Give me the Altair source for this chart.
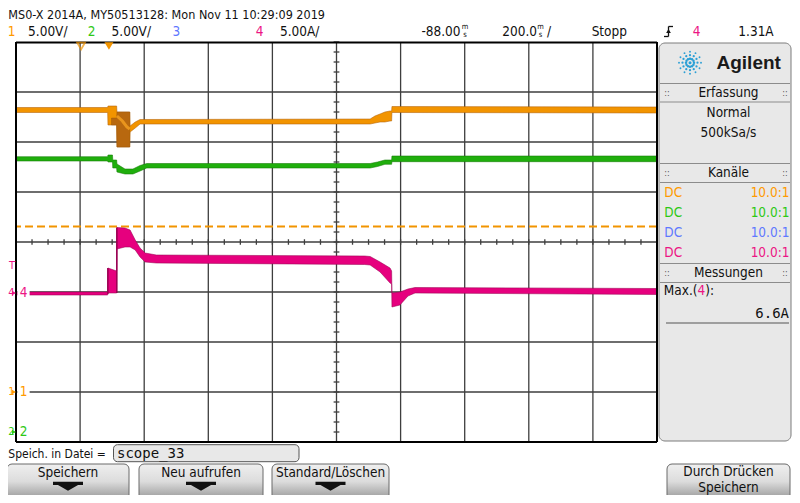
import altair as alt
import numpy as np
import pandas as pd

# ---------------- scope settings ----------------
T_CENTER = -88.0          # ms, horizontal delay
T_DIV = 200.0             # ms / div
CH1_PER_DIV, CH1_GND = 5.0, -3.0    # V/div, ground marker position in div
CH2_PER_DIV, CH2_GND = 5.0, -3.8    # V/div
CH4_PER_DIV, CH4_GND = 5.0, -1.02   # A/div

# ---------------- waveform envelopes (time in ms, values in V / A) ----------------
ch1_t  = [-1088, -802, -801, -774, -773, -733, -732, -716, -701, 17, 32, 48, 63, 79, 84, 85, 912]
ch1_hi = [28.45, 28.45, 28.6, 28.6, 28.0, 28.0, 26.6, 27.0, 27.25, 27.3, 27.6, 27.8, 28.0, 28.1, 28.1, 28.55, 28.5]
ch1_lo = [27.95, 27.95, 26.7, 26.7, 24.5, 24.5, 26.0, 26.4, 26.8, 26.8, 26.9, 27.0, 27.0, 27.1, 27.1, 27.95, 27.9]
ch1_dark_t  = [-790, -774, -773, -733]
ch1_dark_hi = [27.4, 27.4, 28.0, 28.0]
ch1_dark_lo = [26.7, 26.7, 24.5, 24.5]
ch1_streak_t = [-773, -756, -742, -733]
ch1_streak_v = [27.6, 27.1, 26.5, 26.3]

ch2_t  = [-1088, -802, -801, -787, -786, -774, -773, -748, -723, -701, -680, 17, 40, 63, 84, 85, 912]
ch2_hi = [27.53, 27.53, 27.7, 27.7, 27.2, 27.2, 26.8, 26.3, 26.3, 26.65, 26.85, 26.85, 27.0, 27.2, 27.2, 27.6, 27.6]
ch2_lo = [27.1, 27.1, 27.0, 27.0, 26.4, 26.4, 26.0, 25.8, 25.8, 26.1, 26.4, 26.4, 26.55, 26.77, 26.77, 27.03, 27.03]

ch4_t  = [-1088, -802, -801, -774, -773, -748, -732, -716, -701, -685, -650, 0, 17, 48, 79, 84, 85, 110, 135, 157, 912]
ch4_hi = [0.1, 0.1, 2.5, 2.2, 6.55, 6.5, 6.3, 5.3, 4.5, 4.0, 3.8, 3.7, 3.65, 3.1, 2.5, 2.2, 0.0, 0.1, 0.4, 0.55, 0.45]
ch4_lo = [-0.2, -0.2, 0.0, 0.0, 4.4, 4.6, 4.6, 4.3, 3.6, 3.1, 3.0, 2.85, 2.8, 2.1, 1.0, 0.9, -1.4, -1.2, -0.3, 0.0, -0.15]
ch4_edges_t  = [-801.5, -773.5]      # fast edges drawn as thin vertical strokes
ch4_edges_lo = [-0.1, 0.0]
ch4_edges_hi = [2.5, 6.55]

ref_level_a = 6.65            # dashed orange level (on the ch4 scale)
marker_hollow_t = [-885]      # top markers
marker_filled_t = [-798]

# ---------------- texts ----------------
header_line1 = "MS0-X 2014A, MY50513128: Mon Nov 11 10:29:09 2019"
channel_nums = ["1", "2", "3", "4"]
channel_scales = ["5.00V/", "5.00V/", "", "5.00A/"]
delay_text = "-88.00"
timebase_text = "200.0"
run_state = "Stopp"
trig_src = "4"
trig_level = "1.31A"
panel_titles = ["Erfassung", "Kanäle", "Messungen"]
acq_lines = ["Normal", "500kSa/s"]
coupling = ["DC", "DC", "DC", "DC"]
probe = ["10.0:1", "10.0:1", "10.0:1", "10.0:1"]
meas_value = "6.6A"
file_label = "Speich. in Datei ="
file_name = "scope_33"
buttons = ["Speichern", "Neu aufrufen", "Standard/Löschen"]
button_right = ["Durch Drücken", "Speichern"]

# ---------------- styling ----------------
NARROW = "DejaVu Sans Condensed, DejaVu Sans, sans-serif"
SANS = "Liberation Sans, Arial, sans-serif"
MONO = "DejaVu Sans Mono, Liberation Mono, monospace"
FS = 13.5
BLACK = "#111111"
OR_TR, OR_DK, OR_TX = "#f29400", "#b4620a", "#ff9a00"
GR_TR, GR_DK, GR_TX = "#1fae0c", "#137a05", "#2ec814"
MA_TR, MA_DK, MA_TX = "#e6007e", "#9a0052", "#ec1584"
BL_TX = "#5f78ff"
GRID = "#3e3e3e"
CH_COLORS = [OR_TX, GR_TX, BL_TX, MA_TX]

W, H = 641, 400
OX, OY = 16, 42            # page position of the plot area

xs = alt.Scale(domain=[T_CENTER - 5 * T_DIV, T_CENTER + 5 * T_DIV], nice=False, zero=False)
ys = alt.Scale(domain=[-4, 4], nice=False, zero=False)


def pix(df):
    df = df.copy()
    for c in ("x", "x2"):
        if c in df:
            df[c] = df[c] - OX
    for c in ("y", "y2"):
        if c in df:
            df[c] = df[c] - OY
    return df


def PX(f):
    return alt.X(f"{f}:Q", scale=None, axis=None)


def PY(f):
    return alt.Y(f"{f}:Q", scale=None, axis=None)


def text_layer(rows, size=FS, align="left", weight="normal", font=NARROW):
    df = pix(pd.DataFrame(rows, columns=["x", "y", "label", "color"]))
    return alt.Chart(df).mark_text(align=align, baseline="middle", fontSize=size,
                                   fontWeight=weight, font=font).encode(
        x=PX("x"), y=PY("y"), text="label:N", color=alt.Color("color:N", scale=None))


def rect_layer(rows, **mk):
    df = pix(pd.DataFrame(rows, columns=["x", "x2", "y", "y2"]))
    return alt.Chart(df).mark_rect(**mk).encode(x=PX("x"), x2="x2:Q", y=PY("y"), y2="y2:Q")


def rule_layer(rows, **mk):
    df = pix(pd.DataFrame(rows, columns=["x", "x2", "y", "y2"]))
    return alt.Chart(df).mark_rule(**mk).encode(x=PX("x"), x2="x2:Q", y=PY("y"), y2="y2:Q")


def band(t, lo, hi, per, gnd, fill, stroke, sw=0.8):
    df = pd.DataFrame({"t": t, "lo": np.asarray(lo) / per + gnd, "hi": np.asarray(hi) / per + gnd})
    return alt.Chart(df).mark_area(fill=fill, stroke=stroke, strokeWidth=sw, strokeOpacity=0.7).encode(
        x=alt.X("t:Q", scale=xs, axis=None), y=alt.Y("lo:Q", scale=ys, axis=None), y2="hi:Q")


layers = []

# ---------------- graticule ----------------
vgrid = pd.DataFrame({"t": [T_CENTER - 5 * T_DIV + i * T_DIV for i in range(1, 10)]})
layers.append(alt.Chart(vgrid).mark_rule(color=GRID, strokeWidth=1.3).encode(
    x=alt.X("t:Q", scale=xs, axis=None)))
hgrid = pd.DataFrame({"d": list(range(-3, 4))})
layers.append(alt.Chart(hgrid).mark_rule(color=GRID, strokeWidth=1.3).encode(
    y=alt.Y("d:Q", scale=ys, axis=None)))
xt = pd.DataFrame({"t": [T_CENTER - 5 * T_DIV + k * T_DIV / 4 for k in range(41)]})
xt["y1"], xt["y2"] = -0.055, 0.055
layers.append(alt.Chart(xt).mark_rule(color=GRID, strokeWidth=1.3).encode(
    x=alt.X("t:Q", scale=xs, axis=None), y=alt.Y("y1:Q", scale=ys, axis=None), y2="y2:Q"))
yt = pd.DataFrame({"d": [-4 + k * 0.2 for k in range(41)]})
yt["t1"], yt["t2"] = T_CENTER - 9, T_CENTER + 9
layers.append(alt.Chart(yt).mark_rule(color=GRID, strokeWidth=1.3).encode(
    y=alt.Y("d:Q", scale=ys, axis=None), x=alt.X("t1:Q", scale=xs, axis=None), x2="t2:Q"))

# dashed level line
lvl = pd.DataFrame({"lvl": [ref_level_a / CH4_PER_DIV + CH4_GND]})
layers.append(alt.Chart(lvl).mark_rule(color=OR_TR, strokeDash=[8, 4], strokeWidth=2).encode(
    y=alt.Y("lvl:Q", scale=ys, axis=None)))

# ---------------- traces ----------------
layers.append(band(ch1_t, ch1_lo, ch1_hi, CH1_PER_DIV, CH1_GND, OR_TR, OR_DK))
layers.append(band(ch1_dark_t, ch1_dark_lo, ch1_dark_hi, CH1_PER_DIV, CH1_GND, "#b8680f", "#8a4a08", 0.5))
st = pd.DataFrame({"t": ch1_streak_t, "v": np.asarray(ch1_streak_v) / CH1_PER_DIV + CH1_GND})
layers.append(alt.Chart(st).mark_line(color="#f5a020", strokeWidth=3, opacity=0.8).encode(
    x=alt.X("t:Q", scale=xs, axis=None), y=alt.Y("v:Q", scale=ys, axis=None)))
layers.append(band(ch2_t, ch2_lo, ch2_hi, CH2_PER_DIV, CH2_GND, GR_TR, GR_DK))
layers.append(band(ch4_t, ch4_lo, ch4_hi, CH4_PER_DIV, CH4_GND, MA_TR, MA_DK))
edges = pd.DataFrame({"t": ch4_edges_t,
                      "lo": np.asarray(ch4_edges_lo) / CH4_PER_DIV + CH4_GND,
                      "hi": np.asarray(ch4_edges_hi) / CH4_PER_DIV + CH4_GND})
layers.append(alt.Chart(edges).mark_rule(color=MA_DK, strokeWidth=1.5).encode(
    x=alt.X("t:Q", scale=xs, axis=None), y=alt.Y("lo:Q", scale=ys, axis=None), y2="hi:Q"))

# plot frame
layers.append(rule_layer([(16, 657, 42.5, 42.5), (16, 657, 442, 442), (16, 16, 42, 442), (657, 657, 42, 442)],
                         color="black", strokeWidth=2))

# top markers
layers.append(alt.Chart(pd.DataFrame({"t": marker_hollow_t})).mark_point(
    shape="triangle-down", filled=False, color=OR_TR, strokeWidth=1.8, size=60).encode(
    x=alt.X("t:Q", scale=xs, axis=None), y=alt.value(4)))
layers.append(alt.Chart(pd.DataFrame({"t": marker_filled_t})).mark_point(
    shape="triangle-down", filled=True, color=OR_TR, opacity=1, size=80).encode(
    x=alt.X("t:Q", scale=xs, axis=None), y=alt.value(4)))

# ground markers for channels 1, 2, 4
gnd = pd.DataFrame({"label": ["1", "2", "4"], "d": [CH1_GND, CH2_GND, CH4_GND],
                    "color": [OR_TX, GR_TX, MA_TX]})
ych = alt.Y("d:Q", scale=ys, axis=None)
ccol = alt.Color("color:N", scale=None)
layers.append(alt.Chart(gnd).mark_square(color="white", opacity=1, size=150).encode(
    x=alt.value(23.5 - OX), y=ych))
layers.append(alt.Chart(gnd).mark_text(align="center", baseline="middle", fontSize=FS, font=NARROW).encode(
    x=alt.value(23.5 - OX), y=ych, text="label:N", color=ccol))
layers.append(alt.Chart(gnd).mark_text(align="left", baseline="middle", fontSize=11, font=NARROW).encode(
    x=alt.value(8.3 - OX), y=ych, text="label:N", color=ccol))
layers.append(alt.Chart(gnd).mark_point(shape="triangle-right", filled=True, opacity=1, size=22).encode(
    x=alt.value(14 - OX), y=ych, color=ccol))
layers.append(text_layer([(12, 266, "T", MA_TX)], size=11, align="center"))

# ---------------- header ----------------
layers.append(text_layer([(8.3, 14.5, header_line1, BLACK)], size=12.5))
hdr = [(11.5, 32, channel_nums[0], CH_COLORS[0]), (47.8, 32, channel_scales[0], BLACK),
       (91.5, 32, channel_nums[1], CH_COLORS[1]), (131.3, 32, channel_scales[1], BLACK),
       (176.3, 32, channel_nums[2], CH_COLORS[2]),
       (259.5, 32, channel_nums[3], CH_COLORS[3]), (299.7, 32, channel_scales[3], BLACK),
       (441, 32, delay_text, BLACK), (519.7, 32, timebase_text, BLACK),
       (549, 32, "/", BLACK), (609.3, 32, run_state, BLACK),
       (696.5, 32, trig_src, MA_TX), (756, 32, trig_level, BLACK)]
layers.append(text_layer([r for r in hdr if r[2]], align="center"))
layers.append(text_layer([(465, 27, "m", BLACK), (540.5, 27, "m", BLACK)], size=7.5, align="center"))
layers.append(text_layer([(465, 35, "s", BLACK), (540.5, 35, "s", BLACK)], size=7.5, align="center"))
# trigger slope icon
layers.append(rule_layer([(664, 668.5, 36.5, 36.5), (668.5, 668.5, 36.5, 26.5), (668.5, 673, 26.5, 26.5)],
                         color=BLACK, strokeWidth=1.3))
ic = pix(pd.DataFrame({"x": [668.5], "y": [31]}))
layers.append(alt.Chart(ic).mark_point(shape="triangle-up", filled=True, color=BLACK, opacity=1, size=22).encode(
    x=PX("x"), y=PY("y")))

# ---------------- right panel ----------------
layers.append(rect_layer([(659, 791, 43, 441)], fill="#e8e8e8", stroke="#7c7c7c", strokeWidth=1, cornerRadius=6))
layers.append(rule_layer([(660, 790, y, y) for y in (83.5, 102, 163.5, 182.5, 263.5, 282.5)],
                         color="#8c8c8c", strokeWidth=1))
# logo
ang = np.deg2rad(np.arange(0, 360, 30))
lx, ly, ls = [690.0], [62.7], [9.0]
for a in ang:
    for r, s in ((4.0, 6.0), (7.5, 5.0), (11.0, 3.5)):
        lx.append(690 + r * np.cos(a)); ly.append(62.7 + r * np.sin(a)); ls.append(s)
logo = pix(pd.DataFrame({"x": lx, "y": ly, "s": ls}))
layers.append(alt.Chart(logo).mark_circle(color="#2a9fd6", opacity=1).encode(
    x=PX("x"), y=PY("y"), size=alt.Size("s:Q", scale=None)))
layers.append(text_layer([(716.5, 63, "Agilent", "#1a1a1a")], size=19, weight="bold", font=SANS))
layers.append(text_layer([(728.5, 93, panel_titles[0], BLACK), (728.5, 113, acq_lines[0], BLACK),
                          (728.5, 133, acq_lines[1], BLACK), (728.5, 173, panel_titles[1], BLACK),
                          (728.5, 273, panel_titles[2], BLACK)], align="center"))
grip_rows = []
for y in (93, 173, 273):
    grip_rows += [(667, y, "::", "#555555"), (785, y, "::", "#555555")]
layers.append(text_layer(grip_rows, size=9, align="center"))
dcy = [193, 213, 233, 252.5]
layers.append(text_layer([(664.3, y, c, col) for y, c, col in zip(dcy, coupling, CH_COLORS)]))
layers.append(text_layer([(789.5, y, p, col) for y, p, col in zip(dcy, probe, CH_COLORS)], align="right"))
layers.append(text_layer([(697.5, 291, "Max.(", BLACK)], align="right"))
layers.append(text_layer([(701.3, 291, "4", MA_TX)], align="center"))
layers.append(text_layer([(705.2, 291, "):", BLACK)], align="left"))
layers.append(text_layer([(789, 314, meas_value, BLACK)], size=14, align="right", font=MONO))
layers.append(rule_layer([(666, 789, 323, 323)], color="#555555", strokeWidth=1))

# ---------------- bottom bar ----------------
layers.append(text_layer([(8.3, 453.5, file_label, BLACK)], size=12))
layers.append(rect_layer([(113.5, 299, 444.7, 461.7)], fill="#e8e8e8", stroke="#555555", strokeWidth=1,
                         cornerRadius=4))
layers.append(text_layer([(117, 453.5, file_name, BLACK)], size=14, font=MONO))
grad = {"gradient": "linear", "x1": 0, "y1": 0, "x2": 0, "y2": 1,
        "stops": [{"offset": 0, "color": "#efefef"}, {"offset": 0.45, "color": "#dcdcdc"},
                  {"offset": 1, "color": "#8a8a8a"}]}
btn_x = [(7, 129), (139, 263), (272, 389), (667, 790)]
layers.append(rect_layer([(a, b, 464, 503) for a, b in btn_x], fill=grad, stroke="#6a6a6a", strokeWidth=1,
                         cornerRadius=5))
bc = [(a + b) / 2 for a, b in btn_x]
layers.append(text_layer([(bc[i], 473, buttons[i], BLACK) for i in range(3)] +
                         [(bc[3], 472, button_right[0], BLACK), (bc[3], 487.5, button_right[1], BLACK)],
                         align="center"))
arrow = pix(pd.DataFrame({"x": bc[:3], "y": [486] * 3}))
layers.append(alt.Chart(arrow).mark_point(
    shape="M -1 -0.28 L 1 -0.28 L 1 -0.06 L 0.67 -0.06 L 0 0.32 L -0.67 -0.06 L -1 -0.06 Z",
    filled=True, color="#111111", opacity=1, size=900).encode(x=PX("x"), y=PY("y")))

chart = alt.layer(*layers).properties(
    width=W, height=H,
    autosize=alt.AutoSizeParams(type="none"),
    padding={"left": OX - 8, "top": OY - 8, "right": 784 - (OX - 8) - W, "bottom": 487 - (OY - 8) - H},
).configure(background="white").configure_view(stroke=None, fill="white")

chart.save("out.html", embed_options={"renderer": "svg", "actions": False})
